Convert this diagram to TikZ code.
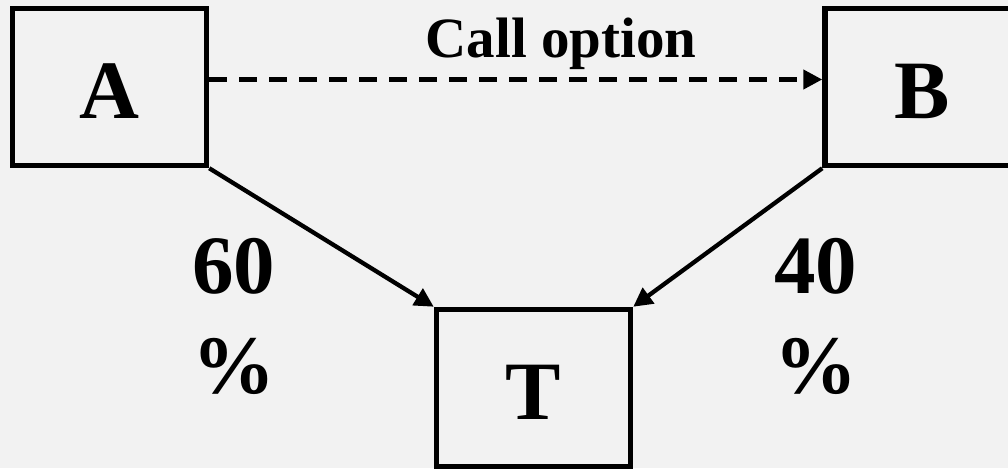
\documentclass[tikz,border=0pt]{standalone}
\usepackage{fontspec}
\setmainfont{Liberation Serif}
\usetikzlibrary{arrows.meta}
\definecolor{bg}{HTML}{F2F2F2}
\begin{document}
\begin{tikzpicture}[x=1pt,y=-1pt,
  box/.style={draw, line width=5.5pt, minimum width=194pt, minimum height=157pt,
    inner sep=0pt, text height=62pt, text depth=0pt,
    font=\fontsize{83}{100}\selectfont\bfseries},
  big/.style={font=\fontsize{83}{100}\selectfont\bfseries, inner sep=0pt, anchor=base},
  link/.style={line width=4.3pt, -{Triangle[length=19pt,width=19pt]}},
]
\fill[bg] (0,0) rectangle (1008,468);
\useasboundingbox (0,0) rectangle (1008,468);
\clip (0,0) rectangle (1008,468);

% the three parties
\node[box] (A) at (109.5,87) {A};
\node[box] (B) at (922,87) {B};
\node[box] (T) at (533.5,388) {T};

% option between A and B
\draw[link, dashed, dash pattern=on 18pt off 12pt] ([yshift=7.5pt]A.east) -- ([yshift=7.5pt]B.west);
\node[anchor=base, inner sep=0pt, font=\fontsize{57}{68}\selectfont\bfseries] (call) at (561,58) {Call option};

% shares held in T
\draw[link] (A.south east) -- (T.north west);
\draw[link] (B.south west) -- (T.north east);

\node[big] (pa) at (233.5,293) {60};
\node[big] (pas) at (233.5,393) {\%};
\node[big] (pb) at (815.5,293) {40};
\node[big] (pbs) at (815.5,393) {\%};
\end{tikzpicture}
\end{document}
